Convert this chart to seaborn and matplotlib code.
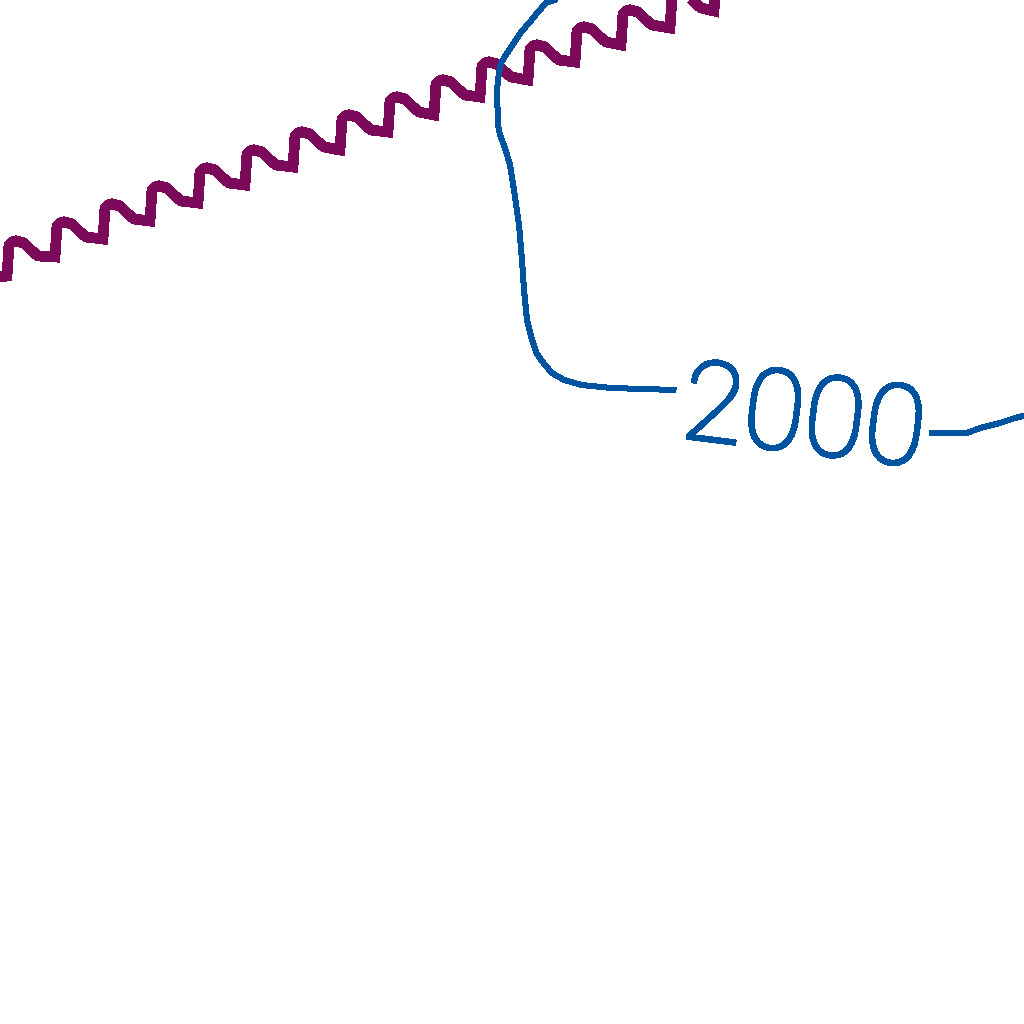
import matplotlib
matplotlib.use("Agg")
import matplotlib.pyplot as plt
import matplotlib.patheffects as pe
import seaborn as sns
import pandas as pd

purple_x = [0, 7, 9, 12, 16, 24, 31, 38,
            55, 57, 60, 64, 72, 79, 86,
            103, 105, 108, 112, 120, 127, 134,
            150, 152, 155, 159, 167, 174, 181,
            198, 200, 203, 207, 215, 222, 229,
            245, 247, 250, 254, 262, 269, 276,
            293, 295, 298, 302, 310, 317, 324,
            340, 342, 345, 349, 357, 364, 371,
            388, 390, 393, 397, 405, 412, 419,
            434, 436, 439, 443, 451, 458, 465,
            480, 482, 485, 489, 497, 504, 511,
            528, 530, 533, 537, 545, 552, 559,
            575, 577, 580, 584, 592, 599, 606,
            621, 623, 626, 630, 638, 645, 652,
            670, 672, 675, 679, 687, 694, 701,
            714, 716, 719, 723, 731, 738, 745,
            760, 762]
purple_y = [277, 276, 245, 242, 241, 243, 250, 256,
            257, 226, 223, 222, 224, 231, 237,
            239, 208, 205, 204, 206, 213, 219,
            221, 190, 187, 186, 188, 195, 201,
            203, 172, 169, 168, 170, 177, 183,
            185, 154, 151, 150, 152, 159, 165,
            167, 136, 133, 132, 134, 141, 147,
            150, 119, 116, 115, 117, 124, 130,
            132, 101, 98, 97, 99, 106, 112,
            115, 84, 81, 80, 82, 89, 95,
            97, 66, 63, 62, 64, 71, 77,
            80, 49, 46, 45, 47, 54, 60,
            62, 31, 28, 27, 29, 36, 42,
            45, 14, 11, 10, 12, 19, 25,
            28, -3, -6, -7, -5, 2, 8,
            11, -20, -23, -24, -22, -15, -9,
            -7, -38]

contour_left_x = [575, 555, 546, 537, 530, 521, 514, 507, 501, 499, 497, 498,
                  500, 505, 510, 514, 519, 522, 524, 527, 532, 537, 545, 552,
                  564, 582, 611, 676]
contour_left_y = [-30, 0, 3, 13, 22, 32, 43, 53, 63, 72, 90, 125,
                  135, 148, 165, 190, 225, 260, 290, 320, 340, 354, 365, 373,
                  380, 385, 388, 390]
contour_right_x = [929, 967, 980, 1000, 1015, 1035]
contour_right_y = [433, 433, 428, 423, 418, 413]
contour_label = "2000"

PURPLE = "#7b0a5a"
BLUE = "#00539f"

sns.set_theme(style="white")
plt.rcParams["font.family"] = ["Roboto", "DejaVu Sans"]
plt.rcParams["text.antialiased"] = False

fig = plt.figure(figsize=(10.24, 10.24), dpi=100)
ax = fig.add_axes([0, 0, 1, 1])

df_p = pd.DataFrame({"x": purple_x, "y": purple_y})
df_l = pd.DataFrame({"x": contour_left_x, "y": contour_left_y})
df_r = pd.DataFrame({"x": contour_right_x, "y": contour_right_y})

sns.lineplot(data=df_p, x="x", y="y", sort=False, estimator=None, ax=ax,
             color=PURPLE, linewidth=7, antialiased=False,
             solid_joinstyle="miter", solid_capstyle="butt")
for d in (df_l, df_r):
    sns.lineplot(data=d, x="x", y="y", sort=False, estimator=None, ax=ax,
                 color=BLUE, linewidth=3.6, antialiased=False,
                 solid_joinstyle="miter", solid_capstyle="butt")

ax.text(800, 452, contour_label, color=BLUE, fontsize=80, fontweight="light",
        ha="center", va="baseline", rotation=-7, rotation_mode="anchor",
        path_effects=[pe.withStroke(linewidth=1.8, foreground=BLUE)])

ax.set_xlim(0, 1024)
ax.set_ylim(1024, 0)
ax.axis("off")
fig.savefig("out.png", dpi=100, facecolor="white")
